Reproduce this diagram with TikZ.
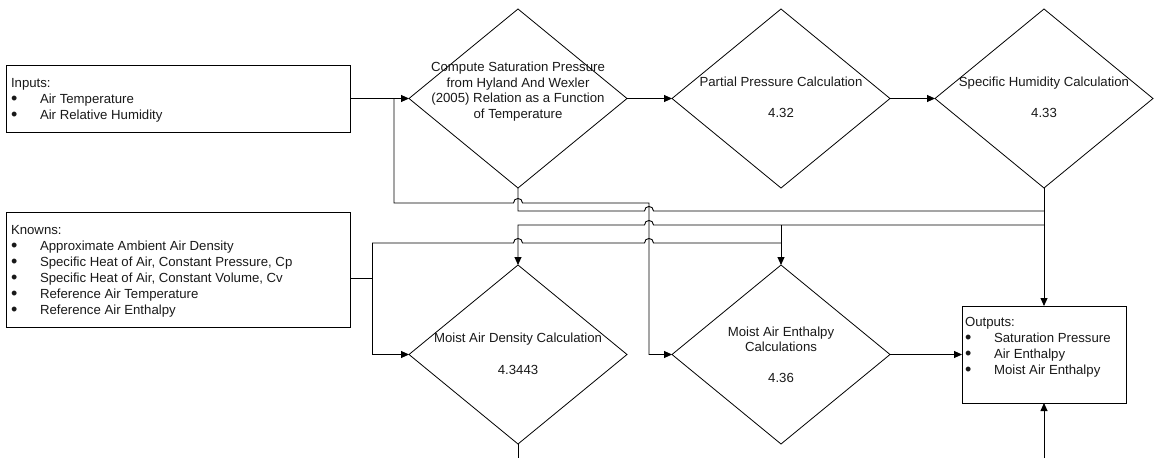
\documentclass[tikz,border=0pt]{standalone}
\usepackage{fontspec}
\setmainfont{Liberation Sans}
\usetikzlibrary{shapes.geometric,arrows.meta,calc}

% bullet cell for the list boxes
\newcommand\bul{\makebox[29pt][l]{\raisebox{-1.4pt}{\fontsize{18}{18}\selectfont\textbullet}}}

\tikzset{
  box/.style={draw, rectangle, inner sep=0pt, outer sep=0pt, line width=0.8pt},
  decision/.style={draw, diamond, minimum width=218pt, minimum height=179pt,
                   inner sep=0pt, outer sep=0pt, line width=0.8pt},
  txt/.style={inner sep=0pt, outer sep=0pt, text=black!90,
              font=\fontsize{13.2}{16}\selectfont},
  arr/.style={-{Triangle[length=8pt,width=7pt]}},
  wire/.style={line width=0.9pt},
  % half-round jump over a crossing vertical line
  hopright/.style 2 args={insert path={-- ({#1-4.5},{#2})
      .. controls ({#1-4.5},{#2-6}) and ({#1+4.5},{#2-6}) .. ({#1+4.5},{#2})}},
  hopleft/.style 2 args={insert path={-- ({#1+4.5},{#2})
      .. controls ({#1+4.5},{#2-6}) and ({#1-4.5},{#2-6}) .. ({#1-4.5},{#2})}},
}

\begin{document}
\begin{tikzpicture}[x=1pt,y=-1pt]
\useasboundingbox (0,0) rectangle (1154,458);

% ---- boxes ----
\node[box, minimum width=344pt, minimum height=67pt]  (inp)  at (178,98.5)  {};
\node[box, minimum width=344pt, minimum height=115pt] (kn)   at (178,269.5) {};
\node[box, minimum width=164pt, minimum height=97pt]  (outp) at (1044,354.5) {};

\node[txt, anchor=base west] (inptxt) at (11,87.5) {\begin{tabular}[t]{@{}l@{}}
  Inputs:\\
  \bul Air Temperature\\
  \bul Air Relative Humidity
\end{tabular}};

\node[txt, anchor=base west] (kntxt) at (11,234.5) {\begin{tabular}[t]{@{}l@{}}
  Knowns:\\
  \bul Approximate Ambient Air Density\\
  \bul Specific Heat of Air, Constant Pressure, Cp\\
  \bul Specific Heat of Air, Constant Volume, Cv\\
  \bul Reference Air Temperature\\
  \bul Reference Air Enthalpy
\end{tabular}};

\node[txt, anchor=base west] (outtxt) at (965,326.5) {\begin{tabular}[t]{@{}l@{}}
  Outputs:\\
  \bul Saturation Pressure\\
  \bul Air Enthalpy\\
  \bul Moist Air Enthalpy
\end{tabular}};

% ---- decisions ----
\node[decision] (d1) at (518,98.5)  {};
\node[decision] (d2) at (781,98.5)  {};
\node[decision] (d3) at (1044,98.5) {};
\node[decision] (d4) at (518,354.5) {};
\node[decision] (d5) at (781,354.5) {};

\node[txt, anchor=base, font=\fontsize{13.2}{15.5}\selectfont] (d1txt) at (518,71.5)
  {\begin{tabular}[t]{@{}c@{}}Compute Saturation Pressure\\ from Hyland And Wexler\\
   (2005) Relation as a Function\\ of Temperature\end{tabular}};
\node[txt, anchor=base] (d2txt) at (781,86.5)
  {\begin{tabular}[t]{@{}c@{}}Partial Pressure Calculation\\[15pt] 4.32\end{tabular}};
\node[txt, anchor=base] (d3txt) at (1044,86.5)
  {\begin{tabular}[t]{@{}c@{}}Specific Humidity Calculation\\[15pt] 4.33\end{tabular}};
\node[txt, anchor=base] (d4txt) at (518,342.5)
  {\begin{tabular}[t]{@{}c@{}}Moist Air Density Calculation\\[16pt] 4.3443\end{tabular}};
\node[txt, anchor=base, font=\fontsize{13.2}{15}\selectfont] (d5txt) at (781,336.5)
  {\begin{tabular}[t]{@{}c@{}}Moist Air Enthalpy\\ Calculations\\[16pt] 4.36\end{tabular}};

% ---- junction points ----
\coordinate (jin)  at (394,98.5);
\coordinate (jin2) at (394,203);
\coordinate (jv)   at (649,203);
\coordinate (s1)   at (518,211);
\coordinate (t1)   at (1044,211);
\coordinate (t2)   at (1044,225);
\coordinate (t3)   at (781,225);
\coordinate (u1)   at (518,225);
\coordinate (kh)   at (372,278);
\coordinate (kv)   at (372,243);
\coordinate (ke)   at (781,243);
\coordinate (b1)   at (518,458);
\coordinate (b2)   at (1044,458);

% ---- connectors ----
\draw[wire, arr] (inp.east) -- (d1.west);
\draw[wire, arr] (jin) -- (jin2) [hopright={518}{203}] -- (jv) |- (d5.west);
\draw[wire] (d1.south) -- (s1) [hopright={649}{211}] -- (t1);
\draw[wire, arr] (d1.east) -- (d2.west);
\draw[wire, arr] (d2.east) -- (d3.west);
\draw[wire, arr] (d3.south) -- (outp.north);
\draw[wire, arr] (t2) [hopleft={649}{225}] -- (u1) -- (d4.north);
\draw[wire, arr] (t3) -- (d5.north);
\draw[wire] ($(kn.east)+(0,8.5)$) -- (kh);
\draw[wire, arr] (kv) |- (d4.west);
\draw[wire] (kv) [hopright={518}{243}] [hopright={649}{243}] -- (ke);
\draw[wire, arr] (d5.east) -- (outp.west);
\draw[wire] (d4.south) -- (b1);
\draw[wire, arr] (b2) -- (outp.south);
\end{tikzpicture}
\end{document}
